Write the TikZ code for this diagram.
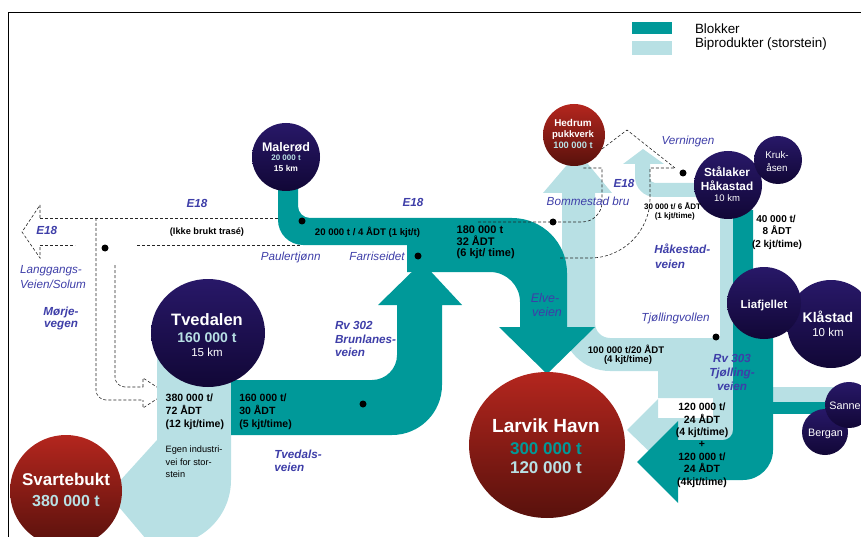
\documentclass[tikz,border=0pt]{standalone}
\usepackage{fontspec}
\setmainfont{Liberation Sans}
\usetikzlibrary{shapes.geometric}
\newcommand\myfs[1]{\fontsize{#1}{#1}\selectfont}
\definecolor{teal1}{RGB}{0,153,153}
\definecolor{lightb}{RGB}{184,224,228}
\definecolor{roadblue}{RGB}{62,62,168}
\definecolor{navyT}{RGB}{40,24,104}
\definecolor{navyB}{RGB}{17,7,54}
\definecolor{redT}{RGB}{180,38,30}
\definecolor{redB}{RGB}{88,17,12}
\begin{document}
\begin{tikzpicture}[x=1pt,y=-1pt,
  txt/.style={inner sep=0pt, outer sep=0pt, anchor=base},
  road/.style={txt, text=roadblue, font={\myfs{11.7}\bfseries\itshape}},
  place/.style={txt, text=roadblue, font={\myfs{11.7}\itshape}},
  flow/.style={txt, font={\myfs{10.5}\bfseries}},
  navy/.style={ellipse, inner sep=0pt, top color=navyT, bottom color=navyB},
  redc/.style={ellipse, inner sep=0pt, top color=redT, bottom color=redB},
  wt/.style={txt, text=white},
  dashln/.style={draw=black!85, line width=0.6pt, dash pattern=on 3pt off 2pt},
  dotn/.style={circle, fill=black, inner sep=0pt, minimum size=7pt}]
\useasboundingbox (0,0) rectangle (861,537);
\clip (0,0) rectangle (861,537);

% frame
\draw[line width=1.5pt] (8.5,540) -- (8.5,12.7) -- (865,12.7);

% legend
\node[fill=teal1, minimum width=40pt, minimum height=12pt, inner sep=0pt] (legA) at (652,28) {};
\node[fill=lightb, minimum width=40pt, minimum height=14pt, inner sep=0pt] (legB) at (652,48) {};
\node[txt, anchor=base west, font=\myfs{13.4}] (legAt) at (695,33.3) {Blokker};
\node[txt, anchor=base west, font=\myfs{13.4}] (legBt) at (695,47.5) {Biprodukter (storstein)};

% old E18 and Morjevegen (dashed)
\draw[dashln] (40,218) -- (280,218);
\draw[dashln] (40,245) -- (75,245);
\draw[dashln] (137,245) -- (300,245);
\draw[dashln] (40,218) -- (40,205) -- (22,232) -- (40,258) -- (40,245);
\draw[dashln, rounded corners=10pt] (96,218) -- (96,400) -- (143,400);
\draw[dashln, rounded corners=10pt] (115,265) -- (115,387) -- (143,387);
\draw[dashln] (143,387) -- (143,378) -- (166,393) -- (143,408) -- (143,400);

% light (biprodukter) bands
\fill[lightb] (157,345) -- (157,440) -- (108,494) -- (157,552) -- (157,545)
   -- (166,545) arc[start angle=90, end angle=0, radius=65] -- (231,345) -- cycle;
\fill[lightb] (562,193) -- (543,193) -- (578,152) -- (612,193) -- (595,193) -- (595,323)
   arc[start angle=180, end angle=90, radius=15] -- (735,338) -- (735,371) -- (610,371)
   arc[start angle=90, end angle=180, radius=48] -- cycle;
\fill[lightb] (658,370) -- (735,370) -- (735,442) -- (658,442) -- (658,460) -- (627,430)
   -- (658,399) -- (658,418) -- (713,418) -- (713,398) -- (658,398) -- cycle;
\fill[lightb] (720,210) rectangle (735,339);
\fill[lightb] (650,164) -- (664,164) -- (643,149) -- (623,164) -- (635,164) -- (635,177)
   arc[start angle=180, end angle=90, radius=20] -- (705,197) -- (705,183) -- (655,183)
   arc[start angle=90, end angle=180, radius=5] -- cycle;
\fill[lightb] (770,387) rectangle (836,402);

% teal (blokker) bands
\fill[teal1] (278,175) -- (278,220) arc[start angle=180, end angle=90, radius=25]
   -- (407,245) -- (407,272) -- (490,272) arc[start angle=270, end angle=360, radius=30]
   -- (520,327) -- (499,327) -- (547,374) -- (595,327) -- (567,327) -- (567,273)
   arc[start angle=0, end angle=-90, radius=55] -- (310,218)
   arc[start angle=90, end angle=180, radius=12] -- (298,175) -- cycle;
\fill[teal1] (231,380) -- (372,380) arc[start angle=90, end angle=0, radius=25]
   -- (397,305) -- (378,305) -- (422,262) -- (462,305) -- (442,305) -- (442,385)
   arc[start angle=0, end angle=90, radius=50] -- (231,435) -- cycle;
\fill[teal1] (733,210) -- (753,210) -- (753,300) -- (773,300) -- (773,450)
   arc[start angle=0, end angle=90, radius=30] -- (678,480) -- (678,503) -- (637,462)
   -- (678,421) -- (678,440) -- (723,440) arc[start angle=90, end angle=0, radius=10] -- cycle;
\fill[teal1] (770,402) rectangle (836,414);

% dashed routes near Bommestad
\draw[dashln] (478,222) -- (582,222) arc[start angle=90, end angle=0, radius=20] -- (602,168) -- (582,168);
\draw[dashln] (560,258) -- (590,258) arc[start angle=90, end angle=0, radius=60] -- (650,168) -- (675,168);
\draw[dashln] (598,152) -- (627,130) -- (675,168);

% circles
\node[navy, minimum width=68pt, minimum height=68pt] (maler) at (286,157) {};
\node[navy, minimum width=114pt, minimum height=108pt] (tved) at (208,333) {};
\node[redc, minimum width=112pt, minimum height=112pt] (svart) at (66,491) {};
\node[redc, minimum width=156pt, minimum height=146pt] (larvik) at (547,445) {};
\node[redc, minimum width=62pt, minimum height=62pt] (hedrum) at (574,135) {};
\node[navy, minimum width=68pt, minimum height=68pt] (staal) at (728,185) {};
\node[navy, minimum width=48pt, minimum height=48pt] (kruk) at (778,160) {};
\node[navy, minimum width=88pt, minimum height=88pt] (klaa) at (831,324) {};
\node[navy, minimum width=74pt, minimum height=72pt] (liaf) at (764,303) {};
\node[navy, minimum width=46pt, minimum height=46pt] (berg) at (825,432) {};
\node[navy, minimum width=48pt, minimum height=46pt] (sanne) at (849,405) {};

% dots
\node[dotn] (d1) at (105,248) {};
\node[dotn] (d2) at (302,221) {};
\node[dotn] (d3) at (418,256) {};
\node[dotn] (d4) at (363,404) {};
\node[dotn] (d5) at (553,222) {};
\node[dotn] (d6) at (683,173) {};
\node[dotn] (d7) at (716,337) {};

% circle texts
\node[wt, font={\myfs{12.5}\bfseries}] (t1) at (286,151.5) {Malerød};
\node[txt, text=lightb, font={\myfs{8}\bfseries}] (t2) at (286,161) {20 000 t};
\node[wt, font={\myfs{8.5}\bfseries}] (t3) at (286,171.5) {15 km};
\node[wt, font={\myfs{16.5}\bfseries}] (t4) at (207,325) {Tvedalen};
\node[txt, text=lightb, font={\myfs{14}\bfseries}] (t5) at (207,342) {160 000 t};
\node[wt, font={\myfs{11.5}}] (t6) at (207,356) {15 km};
\node[wt, font={\myfs{17}\bfseries}] (t7) at (66,485) {Svartebukt};
\node[txt, text=lightb, font={\myfs{16}\bfseries}] (t8) at (66,506.7) {380 000 t};
\node[wt, font={\myfs{19}\bfseries}] (t9) at (546,432.5) {Larvik Havn};
\node[txt, text=teal1, font={\myfs{17}\bfseries}] (t10) at (546,454) {300 000 t};
\node[txt, text=lightb, font={\myfs{17}\bfseries}] (t11) at (546,473.5) {120 000 t};
\node[wt, font={\myfs{9.9}\bfseries}] (t12) at (573,126.7) {Hedrum};
\node[wt, font={\myfs{9.5}\bfseries}] (t13) at (573,138) {pukkverk};
\node[txt, text=lightb, font={\myfs{9.3}\bfseries}] (t14) at (573,149) {100 000 t};
\node[wt, font={\myfs{11.8}\bfseries}] (t15) at (727,177) {Stålaker};
\node[wt, font={\myfs{11.8}\bfseries}] (t16) at (727,190.7) {Håkastad};
\node[wt, font={\myfs{9.5}}] (t17) at (727,201.7) {10 km};
\node[wt, font={\myfs{9.8}}] (t18) at (777,158.3) {Kruk-};
\node[wt, font={\myfs{9.8}}] (t19) at (777,171.7) {åsen};
\node[wt, font={\myfs{11.5}\bfseries}] (t20) at (764,308) {Liafjellet};
\node[wt, font={\myfs{14}\bfseries}] (t21) at (828,322.7) {Klåstad};
\node[wt, font={\myfs{11.5}}] (t22) at (828,336) {10 km};
\node[wt, font={\myfs{10.8}}] (t23) at (825.5,436.5) {Bergan};
\node[wt, font={\myfs{10.8}}] (t24) at (845,409.3) {Sanne};

% flow texts
\node[flow, anchor=base west] (f1) at (165.7,401.7) {380 000 t/};
\node[flow, anchor=base west] (f2) at (165.7,414.7) {72 ÅDT};
\node[flow, anchor=base west] (f3) at (165.7,427.7) {(12 kjt/time)};
\node[flow, anchor=base west] (f4) at (239.3,401.7) {160 000 t/};
\node[flow, anchor=base west] (f5) at (239.3,414.7) {30 ÅDT};
\node[flow, anchor=base west] (f6) at (239.3,427.7) {(5 kjt/time)};
\node[txt, anchor=base west, font=\myfs{9.2}] (f7) at (165.7,452.7) {Egen industri-};
\node[txt, anchor=base west, font=\myfs{9.2}] (f8) at (165.7,465) {vei for stor-};
\node[txt, anchor=base west, font=\myfs{9.2}] (f9) at (165.7,477.3) {stein};
\node[flow, anchor=base west, font={\myfs{11}\bfseries}] (f10) at (456.7,233.3) {180 000 t};
\node[flow, anchor=base west, font={\myfs{11}\bfseries}] (f11) at (456.7,245) {32 ÅDT};
\node[flow, anchor=base west, font={\myfs{11}\bfseries}] (f12) at (456.7,256.5) {(6 kjt/ time)};
\node[flow, font={\myfs{9.6}\bfseries}] (f13) at (367.5,236) {20 000 t / 4 ÅDT (1 kjt/t)};
\node[flow, font={\myfs{9.2}\bfseries}] (f14) at (207,234.8) {(Ikke brukt trasé)};
\node[flow, font={\myfs{8}\bfseries}] (f15) at (672.5,210) {30 000 t/ 6 ÅDT};
\node[flow, font={\myfs{8}\bfseries}] (f16) at (674.8,218.3) {(1 kjt/time)};
\node[flow, font={\myfs{10}\bfseries}] (f17) at (776,222.3) {40 000 t/};
\node[flow, font={\myfs{10}\bfseries}] (f18) at (777,235) {8 ÅDT};
\node[flow, font={\myfs{10}\bfseries}] (f19) at (777,247.9) {(2 kjt/time)};
\node[flow, font={\myfs{9.6}\bfseries}] (f20) at (626,353.3) {100 000 t/20 ÅDT};
\node[flow, font={\myfs{9.6}\bfseries}] (f21) at (628,362) {(4 kjt/time)};
\node[flow] (f22) at (702,410) {120 000 t/};
\node[flow] (f23) at (702,423) {24 ÅDT};
\node[flow] (f24) at (702,435) {(4 kjt/time)};
\node[flow] (f25) at (702,447) {+};
\node[flow] (f26) at (702,460) {120 000 t/};
\node[flow] (f27) at (702,472.7) {24 ÅDT};
\node[flow] (f28) at (702,485) {(4kjt/time)};

% road labels
\node[road] (r1) at (197,207.3) {E18};
\node[road] (r2) at (46.7,234) {E18};
\node[road] (r3) at (413,206.7) {E18};
\node[road] (r4) at (624,187.3) {E18};
\node[road] (r5) at (61,315) {Mørje-};
\node[road] (r6) at (61,327.8) {vegen};
\node[road, anchor=base west] (r7) at (335,329.3) {Rv 302};
\node[road, anchor=base west] (r8) at (335,343.3) {Brunlanes-};
\node[road, anchor=base west] (r9) at (335,356.7) {veien};
\node[road, anchor=base west] (r10) at (274.3,458.3) {Tvedals-};
\node[road, anchor=base west] (r11) at (274.3,471.7) {veien};
\node[road, anchor=base west] (r12) at (654.3,254) {Håkestad-};
\node[road, anchor=base west] (r13) at (655,268.3) {veien};
\node[road] (r14) at (732,362.7) {Rv 303};
\node[road] (r15) at (732,376) {Tjølling-};
\node[road] (r16) at (732,390.7) {veien};
\node[place] (p1) at (51,273.4) {Langgangs-};
\node[place] (p2) at (53,288.5) {Veien/Solum};
\node[place] (p3) at (290.7,260) {Paulertjønn};
\node[place] (p4) at (377,260) {Farriseidet};
\node[place] (p5) at (588,205.4) {Bommestad bru};
\node[place] (p6) at (688,145) {Verningen};
\node[place] (p7) at (675.5,321.7) {Tjøllingvollen};
\node[place, font={\myfs{12.5}\itshape}] (p8) at (545,302.7) {Elve-};
\node[place, font={\myfs{12.5}\itshape}] (p9) at (547,316) {veien};
\end{tikzpicture}
\end{document}
